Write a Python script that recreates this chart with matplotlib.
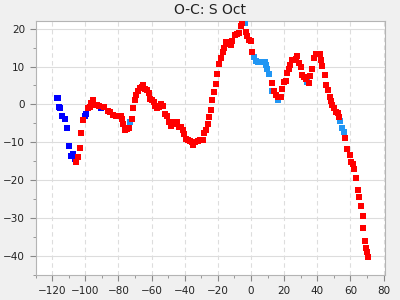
import matplotlib
matplotlib.use('Agg')
import matplotlib.pyplot as plt
from matplotlib.ticker import MultipleLocator

# O-C residuals, three groups of observations
blue_x = [-116.8, -116.2, -115.8, -115.0, -114.0, -112.1, -110.9, -109.7, -108.5, -107.3,
          -106.3, -100.0, -99.4, -90.4]
blue_y = [1.7, 1.7, -0.6, -0.9, -3.0, -3.75, -6.1, -10.9, -13.5, -13.1,
          -14.3, -3.1, -2.5, -0.9]

lblue_x = [-72.9, -3.4, 2.1, 2.9, 4.3, 5.7, 6.9, 8.3, 9.3, 9.9, 10.9, 12.7, 16.0,
           33.7, 53.8, 55.0, 56.4]
lblue_y = [-4.6, 21.5, 12.5, 11.4, 11.1, 11.1, 11.1, 11.1, 10.5, 9.4, 8.1, 3.6, 1.3,
           5.8, -4.4, -6.2, -7.3]

red_x = [-105.5, -104.3, -103.1, -102.5, -101.3, -98.4, -97.2, -96.6, -95.4, -94.4,
         -93.2, -92.0, -88.6, -86.2, -84.8, -83.1, -81.7, -80.1, -78.7, -77.9,
         -77.1, -75.9, -74.7, -73.5, -71.9, -71.1, -69.8, -69.2, -68.0, -66.8,
         -66.0, -65.0, -63.8, -62.8, -61.8, -61.0, -59.8, -58.8, -57.8, -56.6,
         -55.6, -54.1, -52.9, -52.1, -50.9, -49.5, -48.3, -47.3, -46.1, -44.7,
         -43.5, -42.3, -40.8, -40.2, -39.2, -38.0, -36.8, -35.8, -34.8, -33.6,
         -32.2, -30.6, -29.2, -28.4, -27.2, -25.9, -25.1, -24.3, -23.3, -22.1,
         -21.1, -20.3, -19.3, -17.9, -17.1, -16.1, -14.9, -13.5, -12.2, -11.2,
         -9.8, -8.6, -7.0, -5.8, -5.2, -2.8, -2.2, -1.2, 0.2, 0.8,
         12.5, 13.9, 15.3, 16.6, 18.0, 19.0, 20.2, 21.2, 22.0, 23.0,
         23.8, 24.8, 26.0, 27.0, 28.0, 29.0, 30.0, 31.0, 32.0, 33.0,
         35.3, 35.7, 37.1, 38.3, 39.1, 40.3, 41.7, 42.1, 43.1, 44.5,
         45.1, 46.4, 47.4, 48.0, 49.0, 50.0, 51.4, 52.4, 53.4, 57.0,
         58.2, 59.5, 60.1, 61.3, 61.9, 63.1, 64.3, 64.9, 66.1, 67.3,
         67.9, 69.1, 69.7, 70.3, 70.9]
red_y = [-15.2, -13.9, -11.5, -7.5, -4.1, -0.9, -0.8, 0.4, 1.1, -0.1,
         -0.1, -0.4, -0.7, -1.6, -2.1, -2.7, -3.0, -3.1, -3.1, -3.8,
         -5.2, -6.7, -6.4, -6.2, -3.8, -0.9, 1.2, 2.4, 3.6, 4.3,
         4.6, 5.1, 4.2, 3.9, 3.0, 1.4, 1.3, 0.6, -0.3, -1.0,
         -0.7, 0.1, -0.3, -2.5, -3.1, -4.5, -5.8, -5.2, -4.7, -4.5,
         -5.9, -6.0, -6.7, -7.7, -9.0, -9.4, -9.6, -9.9, -10.6, -9.9,
         -9.6, -9.5, -9.3, -7.5, -6.7, -5.2, -3.4, -1.4, 1.1, 3.3,
         5.4, 7.9, 10.7, 12.3, 13.8, 14.8, 16.4, 16.0, 15.6, 16.7,
         18.3, 18.6, 18.9, 20.6, 21.5, 19.1, 18.0, 17.0, 16.7, 13.8,
         5.7, 3.6, 2.5, 2.0, 1.9, 4.1, 6.0, 6.2, 8.3, 9.4,
         10.5, 11.6, 11.8, 12.1, 12.7, 10.9, 9.9, 7.8, 7.2, 6.7,
         5.7, 7.6, 9.4, 12.3, 13.3, 13.2, 13.3, 11.7, 10.1, 7.8,
         5.0, 3.8, 2.0, 0.8, -0.1, -1.0, -1.9, -2.3, -3.3, -8.9,
         -11.8, -13.3, -15.3, -15.8, -17.0, -19.5, -22.6, -24.4, -26.9, -29.4,
         -32.6, -36.0, -37.9, -38.9, -40.2]

fig = plt.figure(figsize=(4, 3), dpi=100, facecolor='#f0f0f0')
ax = fig.add_axes([0.089, 0.083, 0.874, 0.847])
ax.set_facecolor('white')

ax.plot(blue_x, blue_y, 's', color='#0000ff', ms=4.0, mew=0, zorder=3)
ax.plot(lblue_x, lblue_y, 's', color='#2196f3', ms=3.8, mew=0, zorder=3)
ax.plot(red_x, red_y, 's', color='#ff0000', ms=3.8, mew=0, zorder=4)

ax.set_xlim(-130, 81)
ax.set_ylim(-45, 22)
ax.xaxis.set_major_locator(MultipleLocator(20))
ax.xaxis.set_minor_locator(MultipleLocator(10))
ax.yaxis.set_major_locator(MultipleLocator(10))
ax.yaxis.set_minor_locator(MultipleLocator(5))

ax.grid(True, axis='x', which='major', color='#dddddd', linestyle=(0, (4, 3)), lw=0.8)
ax.grid(True, axis='y', which='major', color='#dddddd', linestyle='-', lw=0.8)
ax.set_axisbelow(True)

for s in ax.spines.values():
    s.set_color('#b4b4b4')
ax.tick_params(which='major', length=4, color='#888888', labelsize=7.5, labelcolor='#222222')
ax.tick_params(which='minor', length=2.5, color='#888888')

ax.set_title('O-C: S Oct', fontsize=10, color='#222222', pad=5)

fig.savefig('out.png', dpi=100, facecolor=fig.get_facecolor())
